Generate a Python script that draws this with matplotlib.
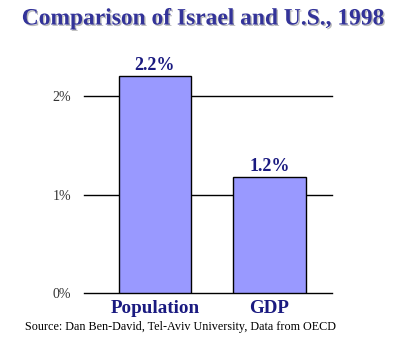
import matplotlib
matplotlib.use("Agg")
import matplotlib.pyplot as plt
import matplotlib.patheffects as pe

categories = ["Population", "GDP"]
values = [2.2, 1.18]
value_labels = ["2.2%", "1.2%"]
yticks = [0, 1, 2]
ytick_labels = ["0%", "1%", "2%"]

NAVY = "#1a1a80"
BAR = "#9999ff"

plt.rcParams["font.family"] = ["Liberation Serif", "DejaVu Serif"]

fig = plt.figure(figsize=(4.06, 3.49), dpi=100)
ax = fig.add_axes([84 / 406, 1 - 293 / 349, 248 / 406, 246.25 / 349])

x = list(range(len(categories)))
ax.bar(x, values, width=0.63, color=BAR, edgecolor="black", linewidth=1.0, zorder=3)
for xi, v, lab in zip(x, values, value_labels):
    ax.text(xi, v + 0.02, lab, ha="center", va="bottom", fontsize=13,
            fontweight="bold", color=NAVY, zorder=4)

ax.set_xlim(-0.62, 1.546)
ax.set_ylim(0, 2.5)
for t in yticks:
    ax.axhline(t, color="black", linewidth=1.0, zorder=1, clip_on=False)
ax.set_yticks(yticks)
ax.set_yticklabels(ytick_labels, fontsize=10, color="#333333")
ax.tick_params(axis="y", length=0, pad=9)
ax.set_xticks(x)
ax.set_xticklabels(categories, fontsize=13.7, fontweight="bold", color=NAVY)
ax.tick_params(axis="x", length=0, pad=5)
for s in ax.spines.values():
    s.set_visible(False)

fig.text(0.5, 1 - 19 / 349, "Comparison of Israel and U.S., 1998", ha="center", va="center",
         fontsize=16.9, fontweight="bold", color="#333399",
         path_effects=[pe.withSimplePatchShadow(offset=(1, -1), shadow_rgbFace="#aaaaaa", alpha=0.8)])
fig.text(25 / 406, 1 - 327 / 349, "Source: Dan Ben-David, Tel-Aviv University, Data from OECD",
         ha="left", va="center", fontsize=8.75, color="black")

fig.savefig("out.png", dpi=100)
